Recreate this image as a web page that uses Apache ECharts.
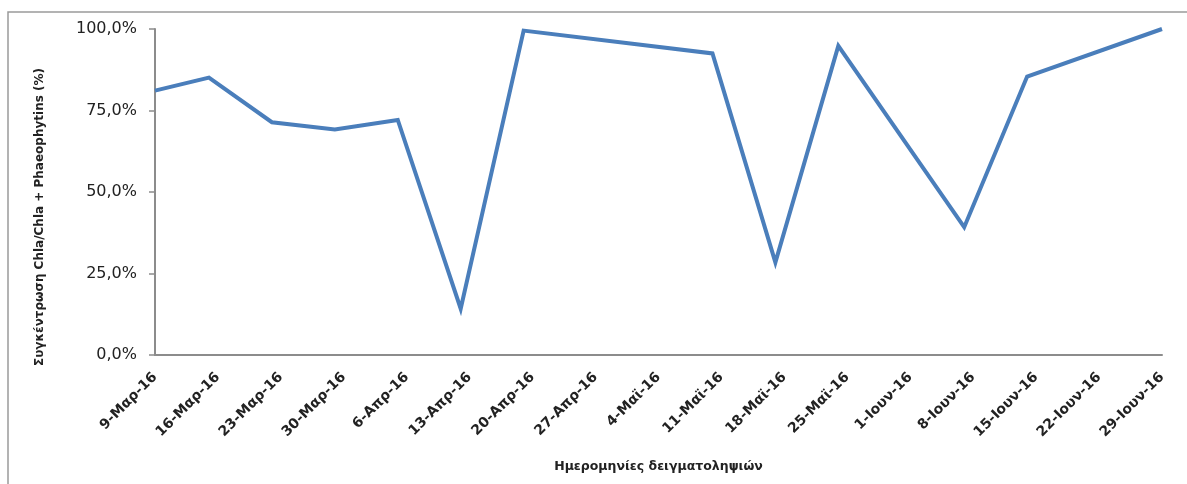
<!DOCTYPE html>
<html>
<head>
<meta charset="utf-8">
<script src="https://cdn.jsdelivr.net/npm/echarts@6/dist/echarts.min.js"></script>
<style>
  html, body { margin: 0; padding: 0; background: #fff; }
  #chart { width: 1187px; height: 484px; }
</style>
</head>
<body>
<div id="chart"></div>
<script>
// Weekly tick labels along the date axis (one every 7 days from 9 March 2016)
const tickLabels = ['9-Μαρ-16', '16-Μαρ-16', '23-Μαρ-16', '30-Μαρ-16', '6-Απρ-16', '13-Απρ-16',
  '20-Απρ-16', '27-Απρ-16', '4-Μαϊ-16', '11-Μαϊ-16', '18-Μαϊ-16', '25-Μαϊ-16',
  '1-Ιουν-16', '8-Ιουν-16', '15-Ιουν-16', '22-Ιουν-16', '29-Ιουν-16'];

// Sampling dates and Chla / (Chla + Phaeophytins) ratio, in percent
const sampleDates = ['2016-03-09', '2016-03-15', '2016-03-22', '2016-03-29', '2016-04-05',
  '2016-04-12', '2016-04-19', '2016-05-10', '2016-05-17', '2016-05-24',
  '2016-06-07', '2016-06-14', '2016-06-29'];
const ratioPct = [81.1, 85.1, 71.4, 69.2, 72.1, 14.2, 99.5, 92.5, 28.4, 94.8, 39.2, 85.4, 100];

const startDate = Date.parse('2016-03-09');
const DAY = 86400000;
const points = sampleDates.map((d, i) => [(Date.parse(d) - startDate) / DAY, ratioPct[i]]);

const chart = echarts.init(document.getElementById('chart'), null, { renderer: 'canvas' });
const labelFont = 'DejaVu Sans';

chart.setOption({
  animation: false,
  backgroundColor: '#ffffff',
  grid: { left: 155, right: 25, top: 29, bottom: 129, containLabel: false },
  xAxis: {
    type: 'value',
    min: 0,
    max: (tickLabels.length - 1) * 7,
    interval: 7,
    name: 'Ημερομηνίες δειγματοληψιών',
    nameLocation: 'middle',
    nameGap: 105,
    nameTextStyle: { fontFamily: labelFont, fontWeight: 'bold', fontSize: 12.5, color: '#222' },
    axisLine: { show: true, lineStyle: { color: '#8c8c8c', width: 2 } },
    axisTick: { show: false },
    splitLine: { show: false },
    axisLabel: {
      rotate: 45,
      margin: 20,
      fontFamily: labelFont,
      fontWeight: 'bold',
      fontSize: 14,
      color: '#222',
      formatter: v => tickLabels[Math.round(v / 7)] || ''
    }
  },
  yAxis: {
    type: 'value',
    min: 0,
    max: 100,
    interval: 25,
    axisLine: { show: true, lineStyle: { color: '#8c8c8c', width: 2 } },
    axisTick: { show: true, length: 6, lineStyle: { color: '#8c8c8c', width: 1.5 } },
    splitLine: { show: false },
    axisLabel: {
      margin: 18,
      fontFamily: labelFont,
      fontSize: 16,
      color: '#222',
      formatter: v => v.toFixed(1).replace('.', ',') + '%'
    }
  },
  series: [{
    type: 'line',
    data: points,
    symbol: 'none',
    lineStyle: { color: '#4a7ebb', width: 4, join: 'miter' },
    itemStyle: { color: '#4a7ebb' }
  }],
  graphic: [
    {
      type: 'rect',
      silent: true,
      z: -1,
      shape: { x: 8, y: 12, width: 1400, height: 700 },
      style: { fill: null, stroke: '#9a9a9a', lineWidth: 1.5 }
    },
    {
      type: 'text',
      silent: true,
      x: 40,
      y: 217,
      rotation: Math.PI / 2,
      style: {
        text: 'Συγκέντρωση Chla/Chla + Phaeophytins (%)',
        font: 'bold 12px "DejaVu Sans"',
        fill: '#222',
        align: 'center',
        verticalAlign: 'middle'
      }
    }
  ]
});
</script>
</body>
</html>
